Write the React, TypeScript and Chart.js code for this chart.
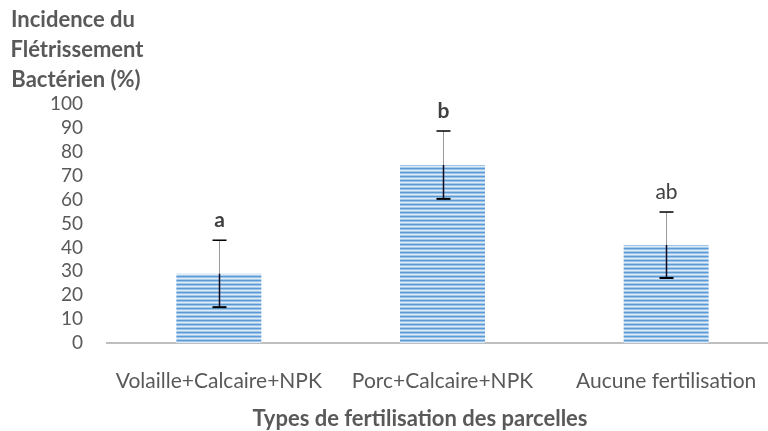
import React, { useEffect, useRef } from "react";
import { Chart, registerables } from "chart.js";

Chart.register(...registerables);

const categories = ["Volaille+Calcaire+NPK", "Porc+Calcaire+NPK", "Aucune fertilisation"];
const incidence = [29, 74.5, 41];
const errors = [14, 14.2, 13.8];
const groupLetters = ["a", "b", "ab"];
const yTitleLines = ["Incidence du", "Flétrissement", "Bactérien (%)"];
const xTitle = "Types de fertilisation des parcelles";

const FONT = "Lato, 'Open Sans', sans-serif";
const TEXT = "#595959";

function makePattern(): CanvasPattern | string {
  const c = document.createElement("canvas");
  c.width = 4;
  c.height = 4;
  const g = c.getContext("2d");
  if (!g) return "#9dc3e6";
  const rows = ["#5b9bd5", "#9dc3e6", "#deebf7", "#a9cbea"];
  rows.forEach((col, i) => {
    g.fillStyle = col;
    g.fillRect(0, i, 4, 1);
  });
  return g.createPattern(c, "repeat") || "#9dc3e6";
}

const overlay = {
  id: "overlay",
  afterDatasetsDraw(chart: any) {
    const ctx = chart.ctx;
    const meta = chart.getDatasetMeta(0);
    const ys = chart.scales.y;
    ctx.save();
    meta.data.forEach((bar: any, i: number) => {
      const x = Math.round(bar.x) + 0.5;
      const top = ys.getPixelForValue(incidence[i] + errors[i]);
      const bot = ys.getPixelForValue(incidence[i] - errors[i]);
      const barTop = ys.getPixelForValue(incidence[i]);
      ctx.strokeStyle = "#9a9a9a";
      ctx.lineWidth = 1;
      ctx.beginPath();
      ctx.moveTo(x, top);
      ctx.lineTo(x, barTop);
      ctx.stroke();
      ctx.strokeStyle = "#0a0a20";
      ctx.lineWidth = 1.5;
      ctx.beginPath();
      ctx.moveTo(x, barTop);
      ctx.lineTo(x, bot);
      ctx.stroke();
      ctx.strokeStyle = "#000";
      ctx.lineWidth = 1.5;
      ctx.beginPath();
      ctx.moveTo(x - 7, top);
      ctx.lineTo(x + 7, top);
      ctx.stroke();
      ctx.lineWidth = 2;
      ctx.beginPath();
      ctx.moveTo(x - 7, bot);
      ctx.lineTo(x + 7, bot);
      ctx.stroke();
      ctx.fillStyle = "#404040";
      ctx.textAlign = "center";
      ctx.textBaseline = "middle";
      const bold = groupLetters[i] === "ab" ? "normal" : "bold";
      ctx.font = `${bold} 21px ${FONT}`;
      ctx.fillText(groupLetters[i], x, top - 20);
    });
    ctx.fillStyle = TEXT;
    ctx.font = `bold 22px ${FONT}`;
    ctx.textAlign = "center";
    ctx.textBaseline = "middle";
    const yc = [20, 50, 80];
    const xc = [73, 77, 76];
    yTitleLines.forEach((t, i) => ctx.fillText(t, xc[i], yc[i]));
    ctx.font = `bold 22px ${FONT}`;
    ctx.fillText(xTitle, 420, 419);
    ctx.restore();
  },
};

export default function App() {
  const ref = useRef<HTMLCanvasElement>(null);
  useEffect(() => {
    document.body.style.margin = "0";
    const canvas = ref.current;
    if (!canvas) return;
    const chart = new Chart(canvas, {
      type: "bar",
      data: {
        labels: categories,
        datasets: [
          {
            data: incidence,
            backgroundColor: makePattern() as any,
            borderWidth: 0,
            barPercentage: 0.38,
            categoryPercentage: 1,
          },
        ],
      },
      options: {
        responsive: false,
        maintainAspectRatio: false,
        animation: false,
        layout: { padding: { top: 104, left: 0, right: 2, bottom: 0 } },
        plugins: {
          legend: { display: false },
          tooltip: { enabled: false },
        },
        scales: {
          x: {
            grid: { display: false },
            border: { display: true, color: "#bfbfbf", width: 2 },
            ticks: {
              color: TEXT,
              font: { family: FONT, size: 21 },
              padding: 18,
              maxRotation: 0,
              autoSkip: false,
            },
            afterFit: (s: any) => {
              s.height = 88;
            },
          },
          y: {
            min: 0,
            max: 100,
            grid: { display: false },
            border: { display: false },
            ticks: {
              stepSize: 10,
              autoSkip: false,
              color: TEXT,
              font: { family: FONT, size: 19 },
              padding: 16,
            },
            afterFit: (s: any) => {
              s.width = 107;
            },
          },
        },
      },
      plugins: [overlay],
    });
    return () => chart.destroy();
  }, []);
  return (
    <div style={{ width: 768, height: 431, overflow: "hidden", position: "relative" }}>
      <canvas ref={ref} width={780} height={431} style={{ width: 780, height: 431, display: "block" }} />
    </div>
  );
}
